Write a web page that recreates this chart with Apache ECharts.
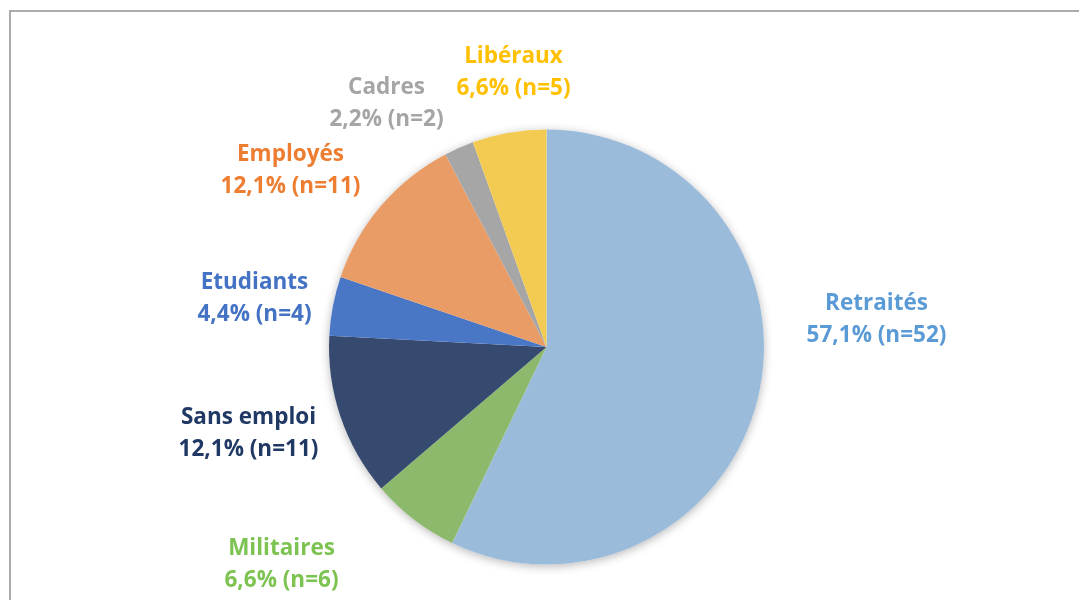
<!DOCTYPE html>
<html>
<head>
<meta charset="utf-8">
<script src="https://cdn.jsdelivr.net/npm/echarts@6/dist/echarts.min.js"></script>
<style>
  html, body { margin: 0; padding: 0; background: #fff; }
  #wrap { position: relative; width: 1079px; height: 600px; overflow: hidden; }
  #frame { position: absolute; left: 9px; top: 10px; width: 1200px; height: 700px;
           border-left: 2px solid #ababab; border-top: 2px solid #ababab; }
  #main { position: absolute; left: 0; top: 0; width: 1079px; height: 600px; }
</style>
</head>
<body>
<div id="wrap">
  <div id="frame"></div>
  <div id="main"></div>
</div>
<script>
var categories = ['Retraités', 'Militaires', 'Sans emploi', 'Etudiants', 'Employés', 'Cadres', 'Libéraux'];
var counts = [52, 6, 11, 4, 11, 2, 5];
var pctLabels = ['57,1%', '6,6%', '12,1%', '4,4%', '12,1%', '2,2%', '6,6%'];

var sliceColors = ['#9bbbda', '#8cb96c', '#364a70', '#4a76c6', '#e99c66', '#a6a6a6', '#f3cb52'];
var textColors = ['#5b9bd5', '#7dc351', '#203864', '#4472c4', '#ed7d31', '#a5a5a5', '#ffc000'];

// label centres, relative to the pie centre (px)
var labelOffsets = [[330, -27], [-265, 218], [-298, 87], [-292, -48], [-256, -176], [-160, -243], [-33, -274]];

var cx = 546.5, cy = 347, radius = 217.5;

var myChart = echarts.init(document.getElementById('main'));

var pieData = categories.map(function (name, i) {
    return {
        name: name,
        value: counts[i],
        itemStyle: { color: sliceColors[i] },
        label: { color: textColors[i] }
    };
});

myChart.setOption({
    animation: false,
    series: [
        {
            // soft shadow under the pie
            type: 'pie',
            silent: true,
            center: [cx, cy],
            radius: [0, radius],
            z: 1,
            label: { show: false },
            labelLine: { show: false },
            itemStyle: {
                color: '#fff',
                shadowBlur: 10,
                shadowColor: 'rgba(0,0,0,0.28)',
                shadowOffsetY: 2
            },
            data: [{ value: 1 }]
        },
        {
            type: 'pie',
            center: [cx, cy],
            radius: [0, radius],
            startAngle: 90,
            clockwise: true,
            z: 2,
            label: {
                show: true,
                position: 'outside',
                fontFamily: 'Open Sans',
                fontWeight: 'bold',
                fontSize: 22.5,
                lineHeight: 32,
                align: 'center',
                formatter: function (p) {
                    return p.name + '\n' + pctLabels[p.dataIndex] + ' (n=' + p.value + ')';
                }
            },
            labelLine: { show: false },
            labelLayout: function (p) {
                var o = labelOffsets[p.dataIndex];
                return {
                    x: cx + o[0],
                    y: cy + o[1],
                    align: 'center',
                    verticalAlign: 'middle'
                };
            },
            data: pieData
        }
    ]
});
</script>
</body>
</html>
